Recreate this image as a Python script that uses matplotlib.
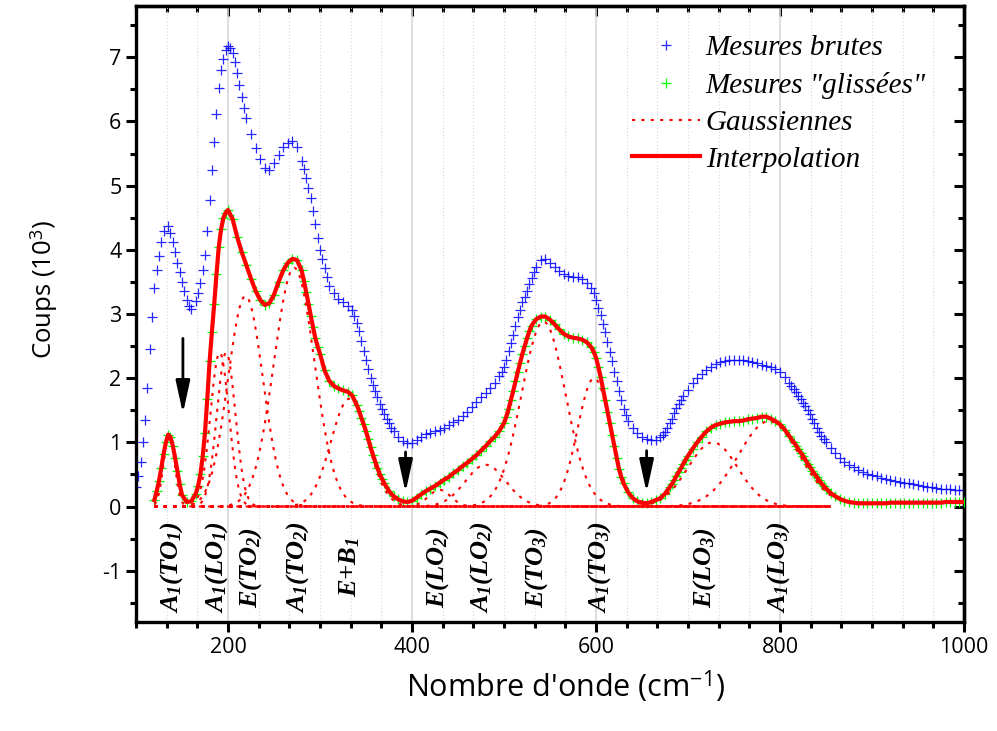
import numpy as np
import matplotlib
matplotlib.use('Agg')
import matplotlib.pyplot as plt
from matplotlib.ticker import MultipleLocator, AutoMinorLocator

plt.rcParams['font.family'] = ['Open Sans', 'DejaVu Sans']
plt.rcParams['mathtext.fontset'] = 'custom'
plt.rcParams['mathtext.it'] = 'Liberation Serif:italic:bold'
plt.rcParams['mathtext.rm'] = 'Liberation Serif:italic:bold'
plt.rcParams['mathtext.sf'] = 'Open Sans'
plt.rcParams['axes.unicode_minus'] = False

# raw counts (10^3), one reading every 5 cm-1 from 100 to 1000
brutes_x = np.arange(100, 1001, 5)
brutes = [0.30, 0.70, 1.35, 2.46, 3.40, 3.90, 4.30, 4.37, 4.12, 3.80,
          3.50, 3.22, 3.08, 3.20, 3.48, 3.92, 4.78, 5.68, 6.52, 6.98,
          7.18, 7.07, 6.75, 6.38, 6.05, 5.80, 5.58, 5.42, 5.28, 5.25,
          5.36, 5.48, 5.60, 5.67, 5.69, 5.60, 5.38, 5.12, 4.80, 4.40,
          4.00, 3.72, 3.44, 3.32, 3.24, 3.18, 3.13, 3.06, 2.86, 2.58,
          2.28, 2.01, 1.80, 1.60, 1.44, 1.30, 1.17, 1.08, 1.02, 0.99,
          0.99, 1.04, 1.09, 1.13, 1.15, 1.18, 1.20, 1.23, 1.27, 1.31,
          1.35, 1.41, 1.48, 1.55, 1.63, 1.70, 1.77, 1.85, 1.92, 2.04,
          2.18, 2.42, 2.67, 2.95, 3.18, 3.36, 3.56, 3.74, 3.84, 3.86,
          3.80, 3.73, 3.67, 3.63, 3.60, 3.58, 3.57, 3.54, 3.49, 3.40,
          3.22, 2.98, 2.72, 2.41, 2.10, 1.80, 1.52, 1.34, 1.23, 1.14,
          1.08, 1.05, 1.03, 1.04, 1.08, 1.16, 1.30, 1.45, 1.60, 1.72,
          1.82, 1.92, 2.01, 2.07, 2.13, 2.18, 2.22, 2.25, 2.27, 2.28,
          2.28, 2.28, 2.28, 2.27, 2.25, 2.23, 2.21, 2.19, 2.17, 2.14,
          2.10, 2.02, 1.92, 1.83, 1.72, 1.61, 1.50, 1.37, 1.23, 1.10,
          1.00, 0.91, 0.83, 0.76, 0.70, 0.65, 0.61, 0.57, 0.54, 0.51,
          0.49, 0.47, 0.45, 0.43, 0.41, 0.39, 0.38, 0.37, 0.36, 0.35,
          0.33, 0.32, 0.31, 0.30, 0.29, 0.28, 0.27, 0.27, 0.26, 0.25,
          0.25]
# extra raw readings on the steep flanks
brutes_extra_x = [102.5, 107.5, 112.5, 117.5, 122.5, 127.5, 137.5, 142.5, 147.5,
                  152.5, 157.5, 167.5, 172.5, 177.5, 182.5, 187.5, 192.5, 197.5,
                  202.5, 207.5, 212.5, 217.5, 282.5, 287.5, 292.5, 297.5, 302.5,
                  307.5, 337.5, 342.5, 347.5, 352.5, 357.5, 362.5, 367.5, 372.5,
                  377.5, 497.5, 502.5, 507.5, 512.5, 517.5, 522.5, 527.5, 532.5,
                  597.5, 602.5, 607.5, 612.5, 617.5, 622.5, 627.5, 632.5, 672.5,
                  677.5, 682.5, 687.5, 692.5, 812.5, 817.5, 822.5, 827.5, 832.5,
                  837.5, 842.5, 847.5]
brutes_extra = [0.48, 1.00, 1.85, 2.95, 3.68, 4.12, 4.27, 3.96, 3.65,
                3.36, 3.13, 3.32, 3.68, 4.30, 5.25, 6.12, 6.80, 7.12,
                7.15, 6.92, 6.57, 6.21, 5.26, 4.97, 4.61, 4.19, 3.86,
                3.57, 2.97, 2.73, 2.43, 2.14, 1.90, 1.70, 1.52, 1.37,
                1.23, 2.10, 2.29, 2.55, 2.81, 3.07, 3.27, 3.46, 3.66,
                3.32, 3.10, 2.85, 2.57, 2.26, 1.95, 1.66, 1.42, 1.12,
                1.22, 1.37, 1.53, 1.66, 1.88, 1.78, 1.67, 1.56, 1.44,
                1.30, 1.16, 1.05]

# smoothed, baseline-corrected counts, every 5 cm-1 from 120 to 1000
glissees_x = np.arange(120, 1001, 5)
glissees = [0.10, 0.40, 0.82, 1.12, 0.95, 0.55, 0.18, 0.07, 0.08, 0.20,
            0.50, 1.15, 2.26, 3.15, 4.05, 4.50, 4.62, 4.48, 4.20, 3.96,
            3.76, 3.55, 3.36, 3.22, 3.14, 3.17, 3.30, 3.50, 3.68, 3.80,
            3.86, 3.84, 3.68, 3.34, 2.97, 2.62, 2.38, 2.12, 1.96, 1.88,
            1.84, 1.81, 1.79, 1.73, 1.58, 1.38, 1.17, 0.92, 0.70, 0.50,
            0.36, 0.24, 0.16, 0.11, 0.08, 0.07, 0.09, 0.14, 0.19, 0.24,
            0.28, 0.32, 0.37, 0.42, 0.46, 0.52, 0.57, 0.63, 0.68, 0.74,
            0.80, 0.87, 0.94, 1.02, 1.09, 1.18, 1.30, 1.52, 1.80, 2.10,
            2.38, 2.62, 2.82, 2.92, 2.96, 2.96, 2.91, 2.84, 2.76, 2.69,
            2.65, 2.63, 2.62, 2.60, 2.56, 2.48, 2.32, 2.02, 1.66, 1.30,
            0.94, 0.58, 0.36, 0.22, 0.13, 0.08, 0.06, 0.05, 0.07, 0.10,
            0.13, 0.20, 0.30, 0.41, 0.54, 0.67, 0.79, 0.90, 1.00, 1.09,
            1.17, 1.23, 1.27, 1.29, 1.31, 1.32, 1.33, 1.33, 1.34, 1.36,
            1.37, 1.38, 1.40, 1.40, 1.37, 1.33, 1.28, 1.20, 1.10, 1.00,
            0.89, 0.79, 0.67, 0.56, 0.46, 0.36, 0.28, 0.21, 0.16, 0.12,
            0.09, 0.07, 0.06, 0.05, 0.05, 0.05, 0.05, 0.05, 0.05, 0.05,
            0.06, 0.06, 0.06, 0.06, 0.06, 0.06, 0.06, 0.06, 0.06, 0.06,
            0.06, 0.06, 0.07, 0.07, 0.07, 0.07, 0.07]
glissees_extra_x = [122.5, 127.5, 132.5, 137.5, 142.5, 147.5, 167.5, 172.5, 177.5,
                    182.5, 187.5, 192.5, 197.5, 282.5, 287.5, 292.5, 297.5, 342.5,
                    347.5, 352.5, 357.5, 362.5, 367.5, 502.5, 507.5, 512.5, 517.5,
                    522.5, 527.5, 597.5, 602.5, 607.5, 612.5, 617.5, 622.5, 627.5,
                    682.5, 687.5, 692.5, 697.5, 817.5, 822.5, 827.5, 832.5, 837.5,
                    842.5, 847.5]
glissees_extra = [0.24, 0.60, 1.00, 1.08, 0.76, 0.35, 0.32, 0.78, 1.68,
                  2.72, 3.62, 4.32, 4.58, 3.52, 3.16, 2.79, 2.49, 1.49,
                  1.28, 1.05, 0.81, 0.60, 0.43, 1.40, 1.66, 1.95, 2.24,
                  2.50, 2.73, 2.41, 2.18, 1.84, 1.48, 1.12, 0.76, 0.46,
                  0.35, 0.48, 0.60, 0.73, 0.95, 0.84, 0.73, 0.62, 0.51,
                  0.41, 0.32]

# gaussian components: centre (cm-1), height, width
gauss_centre = [136, 191, 198, 219, 272, 332, 430, 480, 543, 598, 727, 788]
gauss_height = [1.12, 2.40, 2.40, 3.28, 3.72, 1.68, 0.26, 0.65, 2.88, 2.00, 1.00, 1.33]
gauss_sigma = [6, 10, 10, 19, 22, 20, 12, 22, 24, 18, 27, 33]
gauss_range = (120, 855)

modes = [r'$A_1(TO_1)$', r'$A_1(LO_1)$', r'$E(TO_2)$', r'$A_1(TO_2)$',
         r'$E{+}B_1$', r'$E(LO_2)$', r'$A_1(LO_2)$', r'$E(TO_3)$',
         r'$A_1(TO_3)$', r'$E(LO_3)$', r'$A_1(LO_3)$']
mode_pos = [139, 188, 225, 276, 333, 428, 476, 535, 604, 718, 798]

arrow_x = [151, 393, 655]
arrow_top = [2.62, 0.85, 0.87]
arrow_tip = [1.45, 0.22, 0.22]

bx = np.concatenate([brutes_x, brutes_extra_x])
by = np.concatenate([brutes, brutes_extra])
gx = np.concatenate([glissees_x, glissees_extra_x])
gy = np.concatenate([glissees, glissees_extra])
order = np.argsort(gx)
gx, gy = gx[order], gy[order]

fig = plt.figure(figsize=(9.97, 7.31), dpi=100)
ax = fig.add_axes([0.1364, 0.1491, 0.8305, 0.8427])

ax.plot(bx, by, '+', color='#0000ff', ms=7.5, mew=0.9, alpha=0.85,
        label='Mesures brutes', zorder=2)
ax.plot(gx, gy, '+', color='#00ff00', ms=7.5, mew=0.9,
        label='Mesures "glissées"', zorder=3)

xg = np.linspace(gauss_range[0], gauss_range[1], 600)
for i, (c, h, s) in enumerate(zip(gauss_centre, gauss_height, gauss_sigma)):
    ax.plot(xg, h * np.exp(-(xg - c) ** 2 / (2 * s ** 2)), color='red', lw=1.5,
            ls=(0, (1.5, 3)), label='Gaussiennes' if i == 0 else None, zorder=4)

ax.plot(gx, gy, color='red', lw=3, label='Interpolation', zorder=5)

for xa, yt, yb in zip(arrow_x, arrow_top, arrow_tip):
    ax.annotate('', xy=(xa, yb), xytext=(xa, yt),
                arrowprops=dict(arrowstyle='-|>,head_length=1.1,head_width=0.24',
                                color='black', lw=2.0, mutation_scale=18,
                                shrinkA=0, shrinkB=0), zorder=6)

for lab, xm in zip(modes, mode_pos):
    ax.text(xm, -0.95, lab, rotation=90, ha='center', va='center', fontsize=19)

ax.set_xlim(100, 1000)
ax.set_ylim(-1.8, 7.8)
ax.xaxis.set_major_locator(MultipleLocator(200))
ax.xaxis.set_minor_locator(AutoMinorLocator(6))
ax.yaxis.set_major_locator(MultipleLocator(1))
ax.yaxis.set_minor_locator(MultipleLocator(0.5))
ax.grid(True, axis='x', which='major', color='#d8d8d8', lw=1.2, ls='-')
ax.grid(True, axis='x', which='minor', color='#d8d8d8', lw=0.8, ls=(0, (1, 2)))
ax.set_axisbelow(True)

for sp in ax.spines.values():
    sp.set_linewidth(2.4)
ax.tick_params(which='both', direction='out', width=2.2, labelsize=15.5,
               top=False, right=False)
ax.tick_params(which='major', length=7)
ax.tick_params(which='minor', length=4.5)

top = ax.secondary_xaxis('top')
top.xaxis.set_major_locator(MultipleLocator(200))
top.xaxis.set_minor_locator(AutoMinorLocator(6))
top.tick_params(which='both', direction='in', width=2.2, labeltop=False)
top.tick_params(which='major', length=7)
top.tick_params(which='minor', length=4.5)
right = ax.secondary_yaxis('right')
right.yaxis.set_major_locator(MultipleLocator(1))
right.yaxis.set_minor_locator(MultipleLocator(0.5))
right.tick_params(which='both', direction='in', width=2.2, labelright=False)
right.tick_params(which='major', length=7)
right.tick_params(which='minor', length=4.5)
for sec in (top, right):
    for sp in sec.spines.values():
        sp.set_linewidth(2.4)

ax.set_xlabel(r"Nombre d'onde (cm$^{\mathsf{-1}}$)", fontsize=22, labelpad=8)
ax.xaxis.label.set_x(0.519)
ax.set_ylabel(r"Coups (10$^{\mathsf{3}}$)", fontsize=18.5, labelpad=30)
ax.yaxis.label.set_y(0.54)

ax.legend(loc='upper left', bbox_to_anchor=(0.585, 0.972), frameon=False,
          prop={'family': 'Liberation Serif', 'style': 'italic', 'size': 21},
          handlelength=2.33, handletextpad=0.2, labelspacing=0.36, numpoints=1,
          borderaxespad=0)

fig.savefig('out.png', dpi=100)
